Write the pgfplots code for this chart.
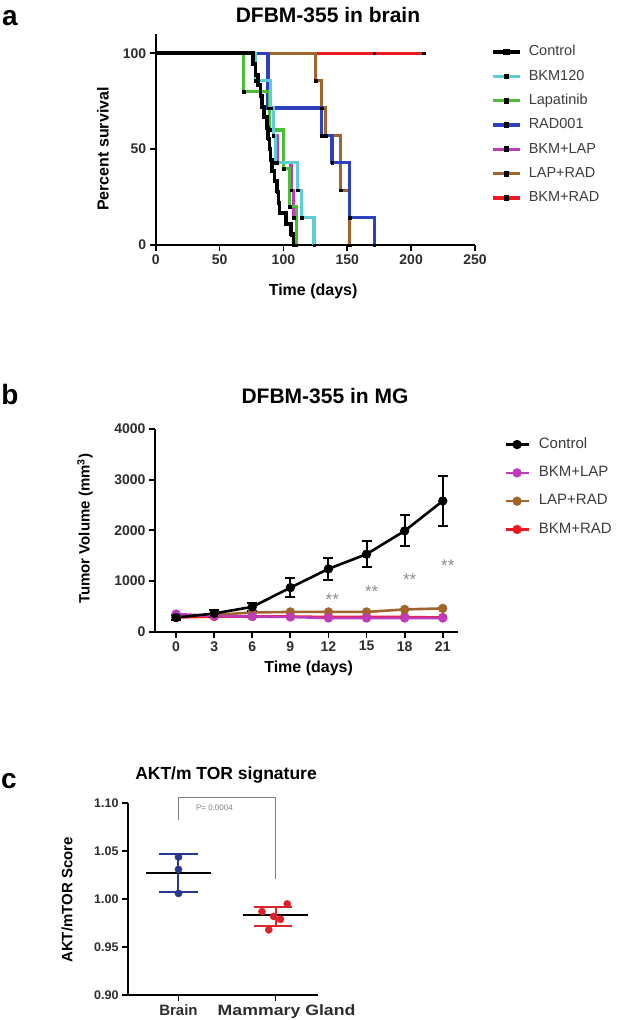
\documentclass[border=0pt]{standalone}
\usepackage{pgfplots}
\usepackage{pgfplotstable}
\pgfplotsset{compat=1.18}
\usepackage{fontspec}
\setmainfont{Liberation Sans}
\newcommand\fs[1]{\fontsize{#1}{#1}\selectfont}
\definecolor{cCyan}{RGB}{95,205,215}
\definecolor{cGreen}{RGB}{75,190,55}
\definecolor{cBlue}{RGB}{45,65,190}
\definecolor{cMag}{RGB}{190,60,185}
\definecolor{cBrown}{RGB}{160,100,45}
\definecolor{cRed}{RGB}{240,25,35}
\definecolor{navy}{RGB}{40,55,145}
\definecolor{dred}{RGB}{220,35,45}
\definecolor{tickgray}{RGB}{45,45,45}
\definecolor{leggray}{RGB}{60,60,60}
% survival data (days, percent)
\pgfplotstableread{
d p
0 100
76 94.4
78 88.9
80 83.3
82 77.8
83 72.2
85 66.7
87 61.1
88 55.6
89 50
90 44.4
91 38.9
93 33.3
95 27.8
96 22.2
97 16.7
102 11.1
106 5.6
108 0
}\tCtrl
\pgfplotstableread{
d p
0 100
78 85.7
90 71.4
92 57.1
94 42.9
111 28.6
114 14.3
124 0
}\tBKM
\pgfplotstableread{
d p
0 100
69 80
89 60
100 40
105 20
110 0
}\tLap
\pgfplotstableread{
d p
0 100
88 71.4
130 57.1
138 42.9
152 14.3
171 0
}\tRad
\pgfplotstableread{
d p
0 100
78 85.7
88 71.4
92 57.1
95 42.9
106 28.6
108 14.3
110 0
}\tBkmLap
\pgfplotstableread{
d p
0 100
125 85.7
130 71.4
133 57.1
145 28.6
152 0
}\tLapRad
\pgfplotstableread{
d p
0 100
171 100
210 100
}\tBkmRad
\pgfplotsset{
  prism/.style={
    scale only axis,
    axis x line*=bottom, axis y line*=left,
    axis line style={line width=1.8pt, -},
    every tick/.style={line width=1.8pt, black},
    major tick length=6pt,
    tick align=outside,
    tick label style={font=\bfseries\fs{14}, text=tickgray},
    /pgf/number format/assume math mode=true,
    /pgf/number format/1000 sep={},
    scaled ticks=false,
    label style={font=\bfseries\fs{16}},
  },
  surv/.style={const plot, line width=3.2pt, mark=none},
  survmk/.style={only marks, forget plot, mark=square*, mark size=1.35pt, black, line width=0.2pt, mark phase=2, mark repeat=1},
  tumor/.style={line width=2.6pt, mark=*, mark size=3.3pt, mark options={solid}},
}
\begin{document}
\begin{tikzpicture}
\path[use as bounding box] (0,0) rectangle (622pt,-1020pt);
% ---------------- panel a
\node[font=\bfseries\fs{28}] at (10pt,-18pt) {a};
\node[font=\bfseries\fs{21}] at (328pt,-15pt) {DFBM-355 in brain};
\begin{axis}[prism,
  at={(155.7pt,-245pt)}, anchor=south west,
  width=319.3pt, height=211pt,
  xmin=0, xmax=250, ymin=0, ymax=110,
  xtick={0,50,...,250}, ytick={0,50,100},
  xlabel={Time (days)}, ylabel={Percent survival},
  xlabel style={at={(axis description cs:0.493,-0.218)}, anchor=center},
  ylabel style={at={(axis description cs:-0.165,0.455)}, anchor=center},
  reverse legend,
  legend cell align=left,
  legend style={at={(axis description cs:1.050,0.947)}, anchor=north west,
    draw=none, fill=none, font=\fs{14.5}, text=leggray, row sep=10.8pt, column sep=3pt, inner sep=0pt,
    nodes={inner xsep=4pt, inner ysep=0pt, text height=10.5pt, text depth=3pt}},
  legend image code/.code={\draw[#1] (0pt,0pt) -- (27pt,0pt); \fill[black] (12.2pt,-1.3pt) rectangle (14.8pt,1.3pt);},
]
\addplot[surv, cRed] table {\tBkmRad};
\addlegendentry{BKM+RAD}
\addplot[surv, cBrown] table {\tLapRad};
\addlegendentry{LAP+RAD}
\addplot[surv, cMag] table {\tBkmLap};
\addlegendentry{BKM+LAP}
\addplot[surv, cBlue] table {\tRad};
\addlegendentry{RAD001}
\addplot[surv, cGreen] table {\tLap};
\addlegendentry{Lapatinib}
\addplot[surv, cCyan] table {\tBKM};
\addlegendentry{BKM120}
\addplot[surv, black, line width=3.6pt] table {\tCtrl};
\addlegendentry{Control}
\addplot[survmk] table {\tBkmRad};
\addplot[survmk] table {\tLapRad};
\addplot[survmk] table {\tBkmLap};
\addplot[survmk] table {\tRad};
\addplot[survmk] table {\tLap};
\addplot[survmk] table {\tBKM};
\addplot[survmk] table {\tCtrl};
\end{axis}
% ---------------- panel b
\node[font=\bfseries\fs{28}] at (10pt,-394pt) {b};
\node[font=\bfseries\fs{21}] at (325pt,-396pt) {DFBM-355 in MG};
\begin{axis}[prism,
  at={(155pt,-631.7pt)}, anchor=south west,
  width=303pt, height=202.7pt,
  xmin=-1.66, xmax=22.2, ymin=0, ymax=4000,
  xtick={0,3,...,21}, ytick={0,1000,...,4000},
  xlabel={Time (days)}, ylabel={Tumor Volume (mm\textsuperscript{3})},
  xlabel style={at={(axis description cs:0.507,-0.183)}, anchor=center},
  ylabel style={at={(axis description cs:-0.231,0.507)}, anchor=center, font=\bfseries\fs{15}},
  clip=false,
  reverse legend,
  legend cell align=left,
  legend style={at={(axis description cs:1.152,0.960)}, anchor=north west,
    draw=none, fill=none, font=\fs{15}, text=leggray, row sep=13.8pt, column sep=5pt, inner sep=0pt,
    nodes={inner xsep=4pt, inner ysep=0pt, text height=11pt, text depth=3.5pt}},
  legend image code/.code={\draw[#1, mark repeat=2, mark phase=2] plot coordinates {(0pt,0pt) (11.5pt,0pt) (23pt,0pt)};},
]
\addplot[tumor, cRed] coordinates {(0,280)(3,300)(6,300)(9,300)(12,290)(15,290)(18,290)(21,280)};
\addlegendentry{BKM+RAD}
\addplot[tumor, cBrown] coordinates {(0,300)(3,330)(6,380)(9,390)(12,390)(15,390)(18,440)(21,460)};
\addlegendentry{LAP+RAD}
\addplot[tumor, cMag] coordinates {(0,350)(3,310)(6,300)(9,290)(12,270)(15,270)(18,270)(21,270)};
\addlegendentry{BKM+LAP}
\addplot[tumor, black,
  error bars/.cd, y dir=both, y explicit, error bar style={line width=2pt, black}, error mark options={rotate=90, mark size=5pt, line width=2pt}]
  coordinates {(0,280) +- (0,40) (3,360) +- (0,60) (6,490) +- (0,80) (9,870) +- (0,180) (12,1240) +- (0,220) (15,1530) +- (0,260) (18,1990) +- (0,305) (21,2580) +- (0,495)};
\addlegendentry{Control}
\node[text=gray!90, font=\fs{17}] at (axis cs:12.3,640) {**};
\node[text=gray!90, font=\fs{17}] at (axis cs:15.4,790) {**};
\node[text=gray!90, font=\fs{17}] at (axis cs:18.4,1035) {**};
\node[text=gray!90, font=\fs{17}] at (axis cs:21.4,1300) {**};
\end{axis}
% ---------------- panel c
\node[font=\bfseries\fs{28}] at (9pt,-781pt) {c};
\node[font=\bfseries\fs{17.5}] at (226pt,-775pt) {AKT/m TOR signature};
\begin{axis}[prism,
  at={(128pt,-995pt)}, anchor=south west,
  width=190.3pt, height=191.7pt,
  xmin=0.48, xmax=2.44, ymin=0.9, ymax=1.1,
  xtick={1,2}, xticklabels={Brain, \hspace*{22pt}\scalebox{1.18}[1]{Mammary Gland}},
  ytick={0.90,0.95,1.00,1.05,1.10},
  yticklabel style={/pgf/number format/.cd, fixed, fixed zerofill, precision=2},
  ticklabel style={font=\bfseries\fs{12.5}},
  xticklabel style={font=\bfseries\fs{15}},
  ylabel={AKT/mTOR Score},
  ylabel style={at={(axis description cs:-0.32,0.496)}, anchor=center, font=\bfseries\fs{15}},
  clip=false,
]
\addplot[only marks, mark=*, mark size=3.6pt, navy] coordinates {(1,1.044)(1,1.031)(1,1.006)};
\addplot[only marks, mark=*, mark size=3.6pt, dred] coordinates {(1.86,0.987)(2.12,0.995)(1.93,0.968)(2.05,0.979)(1.98,0.982)};
\addplot[navy, line width=2pt] coordinates {(1,1.0075)(1,1.047)};
\addplot[navy, line width=2pt] coordinates {(0.8,1.047)(1.2,1.047)};
\addplot[navy, line width=2pt] coordinates {(0.8,1.0075)(1.2,1.0075)};
\addplot[black, line width=2pt] coordinates {(0.67,1.027)(1.33,1.027)};
\addplot[dred, line width=2pt] coordinates {(2,0.972)(2,0.992)};
\addplot[dred, line width=2pt] coordinates {(1.78,0.992)(2.17,0.992)};
\addplot[dred, line width=2pt] coordinates {(1.78,0.972)(2.17,0.972)};
\addplot[black, line width=2pt] coordinates {(1.66,0.9835)(2.33,0.9835)};
\addplot[gray, line width=0.8pt] coordinates {(1,1.0826)(1,1.1063)(2,1.1063)(2,1.0207)};
\node[text=gray, font=\fs{8}] at (axis cs:1.37,1.095) {P= 0.0004};
\end{axis}
\end{tikzpicture}
\end{document}
